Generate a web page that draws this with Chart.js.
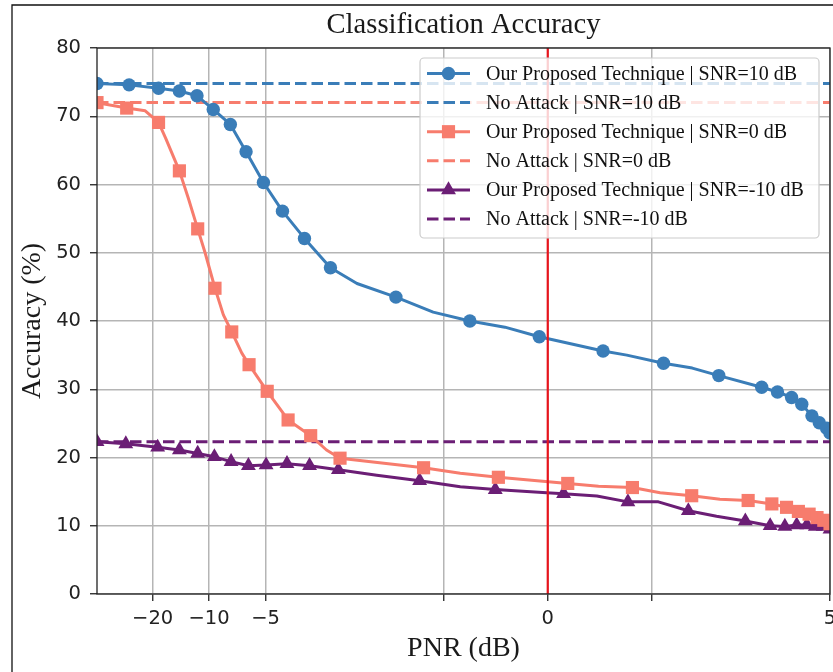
<!DOCTYPE html>
<html><head><meta charset="utf-8">
<script src="https://cdn.jsdelivr.net/npm/chart.js@4.4.1/dist/chart.umd.min.js"></script>
<style>html,body{margin:0;padding:0;background:#fff;}#wrap{position:relative;width:833px;height:672px;overflow:hidden;}canvas{display:block;}</style>
</head><body><div id="wrap"><canvas id="c" width="833" height="672"></canvas></div>
<script>
// ---------- data ----------
const xMin = -39.6, xMax = 5;
const yMin = 0, yMax = 80;
const xTickValues = [-20, -10, -5, -1.84, 0, 1.84, 5];
const xTickLabels = ['\u221220', '\u221210', '\u22125', '', '0', '', '5'];
const seriesNames = [
  'Our Proposed Technique | SNR=10 dB', 'No Attack | SNR=10 dB',
  'Our Proposed Technique | SNR=0 dB', 'No Attack | SNR=0 dB',
  'Our Proposed Technique | SNR=-10 dB', 'No Attack | SNR=-10 dB'
];
// SNR = 10 dB (markers + unmarked line knots)
const blueX = [-39.6, -26.7, -18.6, -14.4, -11.6, -9.5, -7.7, -6.35, -5.13, -4.70, -4.31, -3.85, -2.69, -1.38, -0.15, 0.98, 2.05, 3.03, 3.79, 4.07, 4.32, 4.50, 4.68, 4.81, 4.94, 5.0];
const blueY = [74.8, 74.6, 74.1, 73.7, 73.0, 71.0, 68.8, 64.8, 60.3, 56.1, 52.1, 47.8, 43.5, 40.0, 37.7, 35.6, 33.8, 32.0, 30.3, 29.6, 28.8, 27.8, 26.1, 25.1, 24.3, 23.6];
const blueKnotX = [-3.38, -2.03, -0.76, 1.40, 2.56];
const blueKnotY = [45.5, 41.3, 39.1, 35.0, 33.1];
// SNR = 0 dB
const redX = [-39.6, -27.5, -18.6, -14.4, -11.5, -9.3, -7.57, -6.12, -4.97, -4.60, -4.20, -3.68, -2.20, -0.875, 0.354, 1.50, 2.55, 3.55, 3.97, 4.23, 4.44, 4.63, 4.77, 4.89, 5.0];
const redY = [72.0, 71.2, 69.1, 62.0, 53.5, 44.8, 38.4, 33.6, 29.7, 25.5, 23.2, 19.9, 18.5, 17.1, 16.2, 15.6, 14.4, 13.7, 13.2, 12.7, 12.1, 11.7, 11.2, 10.8, 10.3];
const redKnotX = [-21.9, -17.05, -12.9, -10.5, -8.39, -6.69, -3.92, -1.55, 0.90, 1.99, 3.05];
const redKnotY = [70.8, 66.8, 58.0, 50.0, 40.9, 35.3, 21.1, 17.7, 15.8, 14.85, 13.9];
// SNR = -10 dB
const purX = [-39.6, -27.8, -18.8, -14.4, -11.5, -9.37, -7.63, -6.17, -4.99, -4.62, -4.22, -3.71, -2.27, -0.93, 0.28, 1.42, 2.49, 3.50, 3.94, 4.20, 4.41, 4.59, 4.74, 4.88, 5.0];
const purY = [22.3, 22.0, 21.5, 21.1, 20.6, 20.1, 19.4, 18.8, 18.9, 19.1, 18.8, 18.2, 16.6, 15.3, 14.7, 13.5, 12.2, 10.7, 10.0, 9.9, 10.1, 10.1, 9.9, 9.9, 9.5];
const purKnotX = [-3.03, -1.55, -0.02, 0.87, 1.96, 2.99];
const purKnotY = [17.4, 15.7, 14.85, 14.36, 13.5, 11.4];
// No-attack baselines
const noAttack = [74.8, 72.0, 22.3];
const markerLine = 0; // PNR of the red vertical line

// ---------- styling ----------
const C_BLUE = '#3a7db8', C_RED = '#f77c6d', C_PUR = '#6b1e75', C_VLINE = '#e8141c';
const SERIF = '"Liberation Serif", "Times New Roman", serif';
const SANS = '"DejaVu Sans", sans-serif';
const PLOT_RIGHT = 830;

// symlog-style axis transform (base 2, linear within |x|<=5)
function T(v){ const a = Math.abs(v); return a <= 5 ? v : Math.sign(v) * (5 + Math.log2(a / 5)); }

function build(mx, my, kx, ky){
  const pts = mx.map((x,i)=>({x:T(x), y:my[i], m:true}))
    .concat(kx.map((x,i)=>({x:T(x), y:ky[i], m:false})));
  pts.sort((a,b)=>a.x-b.x);
  return pts;
}
function hline(y){ return [{x:T(xMin), y:y}, {x:T(xMax), y:y}]; }

const DASH = [11.5, 5];
const datasets = [
  {label:'vline', data:[{x:T(markerLine),y:yMin},{x:T(markerLine),y:yMax}], borderColor:C_VLINE, borderWidth:2.2, pointRadius:0, order:0},
  {label:seriesNames[0], data:build(blueX,blueY,blueKnotX,blueKnotY), borderColor:C_BLUE, backgroundColor:C_BLUE, borderWidth:3,
   pointStyle:'circle', pointRadius:c=>c.raw&&c.raw.m?6.7:0, pointBorderWidth:0, order:1},
  {label:seriesNames[1], data:hline(noAttack[0]), borderColor:C_BLUE, borderWidth:3, borderDash:DASH, pointRadius:0, order:2},
  {label:seriesNames[2], data:build(redX,redY,redKnotX,redKnotY), borderColor:C_RED, backgroundColor:C_RED, borderWidth:3,
   pointStyle:'rect', pointRadius:c=>c.raw&&c.raw.m?9.3:0, pointBorderWidth:0, order:3},
  {label:seriesNames[3], data:hline(noAttack[1]), borderColor:C_RED, borderWidth:3, borderDash:DASH, pointRadius:0, order:4},
  {label:seriesNames[4], data:build(purX,purY,purKnotX,purKnotY), borderColor:C_PUR, backgroundColor:C_PUR, borderWidth:3,
   pointStyle:'triangle', pointRadius:c=>c.raw&&c.raw.m?8.6:0, pointBorderWidth:0, order:5},
  {label:seriesNames[5], data:hline(noAttack[2]), borderColor:C_PUR, borderWidth:3, borderDash:DASH, pointRadius:0, order:6}
];
datasets.forEach(d=>{ d.clip = 0; d.tension = 0; d.fill = false; d.borderJoinStyle = 'round';
  d.pointBackgroundColor = d.borderColor; d.pointHoverRadius = d.pointRadius; });

const legendItems = [
  {label:seriesNames[0], color:C_BLUE, marker:'circle', r:6.7},
  {label:seriesNames[1], color:C_BLUE, dash:DASH},
  {label:seriesNames[2], color:C_RED, marker:'rect', r:9.3},
  {label:seriesNames[3], color:C_RED, dash:DASH},
  {label:seriesNames[4], color:C_PUR, marker:'triangle', r:8.6},
  {label:seriesNames[5], color:C_PUR, dash:DASH}
];

function drawMarker(ctx, style, r, x, y){
  ctx.beginPath();
  if (style === 'circle') { ctx.arc(x, y, r, 0, Math.PI*2); }
  else if (style === 'rect') { const s = Math.SQRT1_2*r; ctx.rect(x-s, y-s, 2*s, 2*s); }
  else if (style === 'triangle') {
    for (let k=0;k<3;k++){ const a = -Math.PI/2 + k*2*Math.PI/3; const px = x+Math.cos(a)*r, py = y+Math.sin(a)*r; k?ctx.lineTo(px,py):ctx.moveTo(px,py); }
    ctx.closePath();
  }
  ctx.fill();
}

const framePlugin = {
  id:'frame',
  afterLayout(chart){
    // keep the plot area's right edge where the reference has it (tick label "5" overhangs)
    const a = chart.chartArea;
    const d = PLOT_RIGHT - a.right;
    if (Math.abs(d) > 0.01) {
      a.right += d; a.width = a.right - a.left;
      const xs = chart.scales.x; xs.right += d; xs.width += d; xs.configure();
      if (chart.titleBlock) { chart.titleBlock.right += d; chart.titleBlock.width += d; }
    }
  },
  beforeDraw(chart){
    const ctx = chart.ctx; ctx.save();
    ctx.fillStyle = '#fff'; ctx.fillRect(0,0,chart.width,chart.height);
    ctx.strokeStyle = '#111'; ctx.lineWidth = 1.3;
    ctx.beginPath(); ctx.moveTo(12, chart.height); ctx.lineTo(12, 5); ctx.lineTo(chart.width, 5); ctx.stroke();
    ctx.restore();
  },
  afterDatasetsDraw(chart){
    const a = chart.chartArea, ctx = chart.ctx; ctx.save();
    ctx.strokeStyle = '#222'; ctx.lineWidth = 1.3;
    ctx.strokeRect(a.left, a.top, a.right-a.left, a.bottom-a.top);
    ctx.restore();
  },
  afterDraw(chart){
    const ctx = chart.ctx; ctx.save();
    const x0 = 420, y0 = 58, w = 399, h = 180, rr = 4;
    ctx.beginPath();
    ctx.moveTo(x0+rr, y0); ctx.lineTo(x0+w-rr, y0); ctx.arcTo(x0+w, y0, x0+w, y0+rr, rr);
    ctx.lineTo(x0+w, y0+h-rr); ctx.arcTo(x0+w, y0+h, x0+w-rr, y0+h, rr);
    ctx.lineTo(x0+rr, y0+h); ctx.arcTo(x0, y0+h, x0, y0+h-rr, rr);
    ctx.lineTo(x0, y0+rr); ctx.arcTo(x0, y0, x0+rr, y0, rr); ctx.closePath();
    ctx.fillStyle = 'rgba(255,255,255,0.8)'; ctx.fill();
    ctx.strokeStyle = '#cccccc'; ctx.lineWidth = 1.2; ctx.stroke();
    legendItems.forEach((it,i)=>{
      const y = 73.5 + i*29.1;
      ctx.strokeStyle = it.color; ctx.lineWidth = 3; ctx.lineCap = 'butt';
      ctx.setLineDash(it.dash || []);
      ctx.beginPath(); ctx.moveTo(427, y); ctx.lineTo(470, y); ctx.stroke();
      ctx.setLineDash([]);
      if (it.marker) { ctx.fillStyle = it.color; drawMarker(ctx, it.marker, it.r, 448.5, y); }
      ctx.fillStyle = '#111'; ctx.font = '20px ' + SERIF; ctx.textBaseline = 'middle'; ctx.textAlign = 'left';
      ctx.fillText(it.label, 486, y + 1);
    });
    ctx.restore();
  }
};

new Chart(document.getElementById('c'), {
  type:'line',
  data:{datasets},
  plugins:[framePlugin],
  options:{
    responsive:false, animation:false, devicePixelRatio:1,
    layout:{padding:{left:0, right:3, top:0, bottom:0}},
    plugins:{
      legend:{display:false}, tooltip:{enabled:false},
      title:{display:true, text:'Classification Accuracy', fullSize:false, color:'#1a1a1a',
        font:{family:SERIF, size:28.6, weight:'normal'}, padding:{top:8, bottom:5.7}}
    },
    scales:{
      x:{type:'linear', min:T(xMin), max:T(xMax),
        afterBuildTicks(s){ s.ticks = xTickValues.map(v=>({value:T(v)})); },
        afterFit(s){ s.height = 78; s.paddingLeft = 0; s.paddingRight = 0; },
        ticks:{autoSkip:false, maxRotation:0, padding:6, color:'#222', font:{family:SANS, size:19.5},
          callback:(v,i)=>xTickLabels[i]},
        grid:{color:'#b5b5b5', lineWidth:1.5, tickLength:7, tickColor:'#222', tickWidth:1.3},
        border:{display:false},
        title:{display:true, text:'PNR (dB)', color:'#1a1a1a', font:{family:SERIF, size:28}, padding:{top:0, bottom:7}}
      },
      y:{type:'linear', min:yMin, max:yMax,
        afterFit(s){ s.width = 97; s.paddingTop = 0; s.paddingBottom = 0; },
        ticks:{stepSize:10, padding:9, color:'#222', font:{family:SANS, size:19.5}},
        grid:{color:'#b5b5b5', lineWidth:1.5, tickLength:7, tickColor:'#222', tickWidth:1.3},
        border:{display:false},
        title:{display:true, text:'Accuracy (%)', color:'#1a1a1a', font:{family:SERIF, size:28}, padding:{top:15.7, bottom:0}}
      }
    }
  }
});
</script></body></html>
